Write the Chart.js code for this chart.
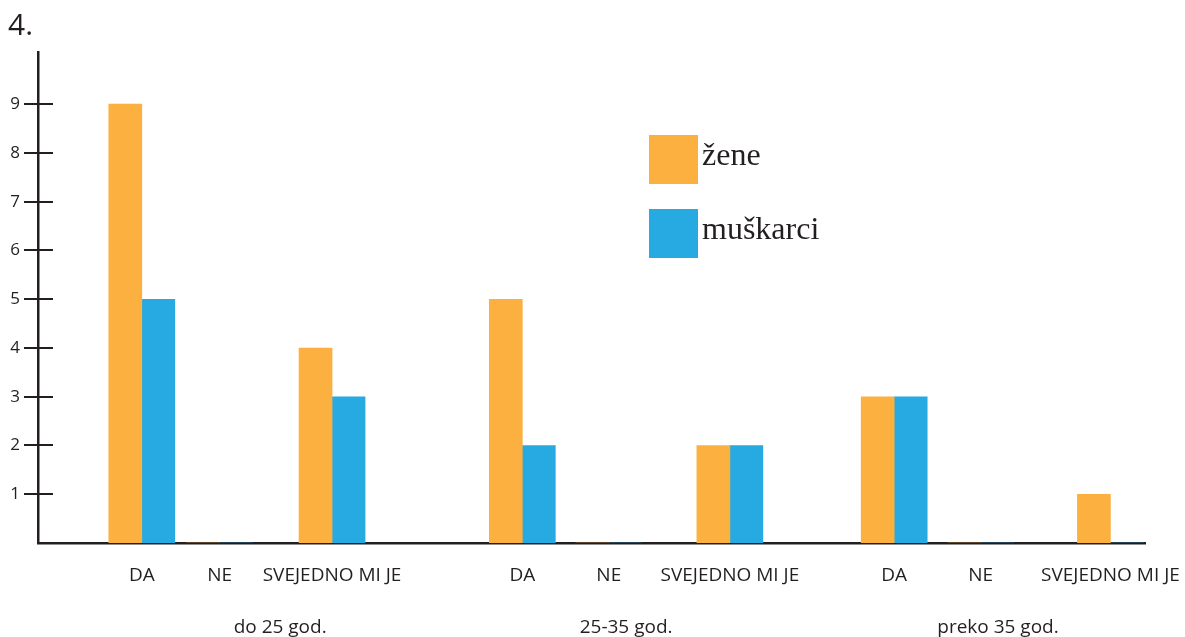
<!DOCTYPE html>
<html>
<head>
<meta charset="utf-8">
<script src="https://cdn.jsdelivr.net/npm/chart.js@4"></script>
<style>
  html, body { margin: 0; padding: 0; background: #fff; }
  #wrap { width: 1185px; height: 637px; }
</style>
</head>
<body>
<div id="wrap"><canvas id="chart"></canvas></div>
<script>
// data
const answers = ['DA', 'NE', 'SVEJEDNO MI JE', 'DA', 'NE', 'SVEJEDNO MI JE', 'DA', 'NE', 'SVEJEDNO MI JE'];
const groups = ['do 25 god.', '25-35 god.', 'preko 35 god.'];
const zene = [9, 0, 4, 5, 0, 2, 3, 0, 1];
const muskarci = [5, 0, 3, 2, 0, 2, 3, 0, 0];
const yTicks = [1, 2, 3, 4, 5, 6, 7, 8, 9];

// layout: the original spaces the columns unevenly, so the x axis is a fine
// grid of slots and every answer / group name sits on one of them
const SLOTS = 129;
const answerSlot = [12, 21, 34, 56, 66, 80, 99, 109, 124];
const groupSlot = [28, 68, 111];

const ink = '#231f20';
const orange = '#fbb040';
const blue = '#27aae1';

const slotLabels = Array(SLOTS).fill('');
answerSlot.forEach((s, i) => { slotLabels[s] = answers[i]; });
const groupLabels = Array(SLOTS).fill('');
groupSlot.forEach((s, i) => { groupLabels[s] = groups[i]; });

function spread(values) {
    const out = Array(SLOTS).fill(null);
    answerSlot.forEach((s, i) => { out[s] = values[i]; });
    return out;
}

// tick marks on the y axis cross the axis line, so draw the inner half too
const innerTicks = {
    id: 'innerTicks',
    afterDraw(chart) {
        const ctx = chart.ctx;
        const y = chart.scales.y;
        const left = chart.chartArea.left;
        ctx.save();
        ctx.strokeStyle = ink;
        ctx.lineWidth = 2;
        y.ticks.forEach(t => {
            const py = Math.round(y.getPixelForValue(t.value));
            ctx.beginPath();
            ctx.moveTo(left, py);
            ctx.lineTo(left + 15, py);
            ctx.stroke();
        });
        ctx.restore();
    }
};

// big square legend in the upper middle
const squareLegend = {
    id: 'squareLegend',
    afterDraw(chart) {
        const ctx = chart.ctx;
        ctx.save();
        chart.data.datasets.forEach((ds, i) => {
            const top = 135 + i * 74;
            ctx.fillStyle = ds.backgroundColor;
            ctx.fillRect(649, top, 49, 49);
            ctx.fillStyle = ink;
            ctx.font = '32px "Liberation Serif"';
            ctx.textAlign = 'left';
            ctx.textBaseline = 'alphabetic';
            ctx.fillText(ds.label, 702, top + 30);
        });
        ctx.restore();
    }
};

new Chart(document.getElementById('chart'), {
    type: 'bar',
    data: {
        labels: slotLabels,
        datasets: [{
            label: 'žene',
            data: spread(zene),
            backgroundColor: orange,
            borderWidth: 0,
            barThickness: 33
        }, {
            label: 'muškarci',
            data: spread(muskarci),
            backgroundColor: blue,
            borderWidth: 0,
            barThickness: 33
        }]
    },
    options: {
        responsive: true,
        maintainAspectRatio: false,
        animation: false,
        layout: {
            padding: { left: 8, right: 40, top: 0, bottom: 0 }
        },
        plugins: {
            legend: { display: false },
            tooltip: { enabled: false },
            title: {
                display: true,
                text: '4.',
                align: 'start',
                color: ink,
                font: { family: '"Open Sans"', size: 30, weight: 'normal' },
                padding: { top: 8, bottom: 8 }
            }
        },
        scales: {
            x: {
                type: 'category',
                offset: false,
                weight: 0,
                z: 1, // axis line over the zero-height bars
                grid: { display: false, drawTicks: false },
                border: { color: ink, width: 2.5 },
                ticks: {
                    autoSkip: false,
                    maxRotation: 0,
                    minRotation: 0,
                    color: ink,
                    padding: 21,
                    font: { family: '"Open Sans"', size: 19 }
                },
                afterFit(scale) { scale.height = 50; }
            },
            xg: {
                type: 'category',
                labels: groupLabels,
                position: 'bottom',
                offset: false,
                weight: 1,
                grid: { display: false, drawTicks: false },
                border: { display: false },
                ticks: {
                    autoSkip: false,
                    maxRotation: 0,
                    minRotation: 0,
                    color: ink,
                    padding: 23,
                    font: { family: '"Open Sans"', size: 19 }
                },
                afterFit(scale) { scale.height = 44; }
            },
            y: {
                min: 0,
                max: 10.07,
                grid: {
                    drawOnChartArea: false,
                    drawTicks: true,
                    tickLength: 14,
                    color: ink,
                    lineWidth: 2
                },
                border: { color: ink, width: 2.5 },
                ticks: {
                    color: ink,
                    padding: 4,
                    font: { family: '"Open Sans"', size: 17 }
                },
                afterBuildTicks(scale) {
                    scale.ticks = yTicks.map(v => ({ value: v }));
                },
                afterFit(scale) { scale.width = 30; }
            }
        }
    },
    plugins: [innerTicks, squareLegend]
});
</script>
</body>
</html>
